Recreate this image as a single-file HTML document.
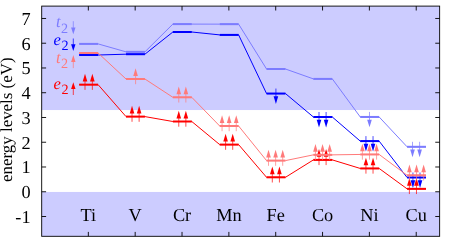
<!DOCTYPE html>
<html><head><meta charset="utf-8"><title>energy levels</title>
<style>
html,body{margin:0;padding:0;background:#fff;}
body{width:452px;height:246px;overflow:hidden;}
svg{display:block;will-change:transform;}
text{font-family:"Liberation Serif",serif;text-rendering:geometricPrecision;}
.tk{font-size:18.3px;fill:#000;}
.yl{font-size:16.9px;fill:#000;}
.lg{font-size:16.5px;}
.sub{font-size:14.2px;}
</style></head><body>
<svg width="452" height="246" viewBox="0 0 452 246">
<rect x="0" y="0" width="452" height="246" fill="#ffffff"/>
<rect x="41.70" y="6.10" width="397.95" height="103.95" fill="#ccccff"/>
<rect x="41.70" y="191.95" width="397.95" height="44.35" fill="#ccccff"/>
<path d="M79.19 84.65 L98.09 84.65 L126.03 116.60 L144.93 116.60 L172.87 121.50 L191.77 121.50 L219.71 144.60 L238.61 144.60 L266.56 177.30 L285.46 177.30 L313.40 159.90 L332.30 159.90 L360.24 168.45 L379.14 168.45 L407.08 188.85 L425.98 188.85" fill="none" stroke="#ff0000" stroke-width="1.00" stroke-linejoin="round"/>
<path d="M79.19 84.65 H98.09" stroke="#ff0000" stroke-width="2.00" fill="none"/>
<path d="M126.03 116.60 H144.93" stroke="#ff0000" stroke-width="2.00" fill="none"/>
<path d="M172.87 121.50 H191.77" stroke="#ff0000" stroke-width="2.00" fill="none"/>
<path d="M219.71 144.60 H238.61" stroke="#ff0000" stroke-width="2.00" fill="none"/>
<path d="M266.56 177.30 H285.46" stroke="#ff0000" stroke-width="2.00" fill="none"/>
<path d="M313.40 159.90 H332.30" stroke="#ff0000" stroke-width="2.00" fill="none"/>
<path d="M360.24 168.45 H379.14" stroke="#ff0000" stroke-width="2.00" fill="none"/>
<path d="M407.08 188.85 H425.98" stroke="#ff0000" stroke-width="2.00" fill="none"/>
<path d="M85.01 89.85 V81.05" stroke="#ff0000" stroke-width="0.70" fill="none"/>
<path d="M85.01 73.85 L82.71 81.55 L87.31 81.55 Z" fill="#ff0000"/>
<path d="M92.35 89.85 V81.05" stroke="#ff0000" stroke-width="0.70" fill="none"/>
<path d="M92.35 73.85 L90.05 81.55 L94.65 81.55 Z" fill="#ff0000"/>
<path d="M132.03 121.80 V113.00" stroke="#ff0000" stroke-width="0.70" fill="none"/>
<path d="M132.03 105.80 L129.73 113.50 L134.33 113.50 Z" fill="#ff0000"/>
<path d="M139.13 121.80 V113.00" stroke="#ff0000" stroke-width="0.70" fill="none"/>
<path d="M139.13 105.80 L136.83 113.50 L141.43 113.50 Z" fill="#ff0000"/>
<path d="M178.77 126.70 V117.90" stroke="#ff0000" stroke-width="0.70" fill="none"/>
<path d="M178.77 110.70 L176.47 118.40 L181.07 118.40 Z" fill="#ff0000"/>
<path d="M185.87 126.70 V117.90" stroke="#ff0000" stroke-width="0.70" fill="none"/>
<path d="M185.87 110.70 L183.57 118.40 L188.17 118.40 Z" fill="#ff0000"/>
<path d="M225.61 149.80 V141.00" stroke="#ff0000" stroke-width="0.70" fill="none"/>
<path d="M225.61 133.80 L223.31 141.50 L227.91 141.50 Z" fill="#ff0000"/>
<path d="M232.71 149.80 V141.00" stroke="#ff0000" stroke-width="0.70" fill="none"/>
<path d="M232.71 133.80 L230.41 141.50 L235.01 141.50 Z" fill="#ff0000"/>
<path d="M272.31 182.50 V173.70" stroke="#ff0000" stroke-width="0.70" fill="none"/>
<path d="M272.31 166.50 L270.01 174.20 L274.61 174.20 Z" fill="#ff0000"/>
<path d="M279.41 182.50 V173.70" stroke="#ff0000" stroke-width="0.70" fill="none"/>
<path d="M279.41 166.50 L277.11 174.20 L281.71 174.20 Z" fill="#ff0000"/>
<path d="M319.00 165.10 V156.30" stroke="#ff0000" stroke-width="0.70" fill="none"/>
<path d="M319.00 149.10 L316.70 156.80 L321.30 156.80 Z" fill="#ff0000"/>
<path d="M326.10 165.10 V156.30" stroke="#ff0000" stroke-width="0.70" fill="none"/>
<path d="M326.10 149.10 L323.80 156.80 L328.40 156.80 Z" fill="#ff0000"/>
<path d="M365.94 173.65 V164.85" stroke="#ff0000" stroke-width="0.70" fill="none"/>
<path d="M365.94 157.65 L363.64 165.35 L368.24 165.35 Z" fill="#ff0000"/>
<path d="M373.04 173.65 V164.85" stroke="#ff0000" stroke-width="0.70" fill="none"/>
<path d="M373.04 157.65 L370.74 165.35 L375.34 165.35 Z" fill="#ff0000"/>
<path d="M409.38 194.05 V185.25" stroke="#ff0000" stroke-width="0.70" fill="none"/>
<path d="M409.38 178.05 L407.08 185.75 L411.68 185.75 Z" fill="#ff0000"/>
<path d="M416.48 194.05 V185.25" stroke="#ff0000" stroke-width="0.70" fill="none"/>
<path d="M416.48 178.05 L414.18 185.75 L418.78 185.75 Z" fill="#ff0000"/>
<path d="M79.19 55.00 L98.09 55.00 L126.03 54.20 L144.93 54.20 L172.87 32.00 L191.77 32.00 L219.71 34.90 L238.61 34.90 L266.56 93.55 L285.46 93.55 L313.40 117.00 L332.30 117.00 L360.24 141.10 L379.14 141.10 L407.08 177.50 L425.98 177.50" fill="none" stroke="#0000ff" stroke-width="1.00" stroke-linejoin="round"/>
<path d="M79.19 55.00 H98.09" stroke="#0000ff" stroke-width="2.00" fill="none"/>
<path d="M126.03 54.20 H144.93" stroke="#0000ff" stroke-width="2.00" fill="none"/>
<path d="M172.87 32.00 H191.77" stroke="#0000ff" stroke-width="2.00" fill="none"/>
<path d="M219.71 34.90 H238.61" stroke="#0000ff" stroke-width="2.00" fill="none"/>
<path d="M266.56 93.55 H285.46" stroke="#0000ff" stroke-width="2.00" fill="none"/>
<path d="M313.40 117.00 H332.30" stroke="#0000ff" stroke-width="2.00" fill="none"/>
<path d="M360.24 141.10 H379.14" stroke="#0000ff" stroke-width="2.00" fill="none"/>
<path d="M407.08 177.50 H425.98" stroke="#0000ff" stroke-width="2.00" fill="none"/>
<path d="M275.91 88.55 V96.75" stroke="#0000ff" stroke-width="0.70" fill="none"/>
<path d="M275.91 103.95 L273.61 96.25 L278.21 96.25 Z" fill="#0000ff"/>
<path d="M319.00 112.00 V120.20" stroke="#0000ff" stroke-width="0.70" fill="none"/>
<path d="M319.00 127.40 L316.70 119.70 L321.30 119.70 Z" fill="#0000ff"/>
<path d="M326.10 112.00 V120.20" stroke="#0000ff" stroke-width="0.70" fill="none"/>
<path d="M326.10 127.40 L323.80 119.70 L328.40 119.70 Z" fill="#0000ff"/>
<path d="M365.94 136.10 V144.30" stroke="#0000ff" stroke-width="0.70" fill="none"/>
<path d="M365.94 151.50 L363.64 143.80 L368.24 143.80 Z" fill="#0000ff"/>
<path d="M373.04 136.10 V144.30" stroke="#0000ff" stroke-width="0.70" fill="none"/>
<path d="M373.04 151.50 L370.74 143.80 L375.34 143.80 Z" fill="#0000ff"/>
<path d="M412.93 172.50 V180.70" stroke="#0000ff" stroke-width="0.70" fill="none"/>
<path d="M412.93 187.90 L410.63 180.20 L415.23 180.20 Z" fill="#0000ff"/>
<path d="M420.03 172.50 V180.70" stroke="#0000ff" stroke-width="0.70" fill="none"/>
<path d="M420.03 187.90 L417.73 180.20 L422.33 180.20 Z" fill="#0000ff"/>
<path d="M79.19 43.90 L98.09 43.90 L126.03 51.85 L144.93 51.85 L172.87 24.10 L191.77 24.10 L219.71 24.15 L238.61 24.15 L266.56 69.00 L285.46 69.00 L313.40 78.90 L332.30 78.90 L360.24 116.95 L379.14 116.95 L407.08 146.80 L425.98 146.80" fill="none" stroke="#7c7cff" stroke-width="1.00" stroke-linejoin="round"/>
<path d="M79.19 43.90 H98.09" stroke="#7c7cff" stroke-width="2.00" fill="none"/>
<path d="M126.03 51.85 H144.93" stroke="#7c7cff" stroke-width="2.00" fill="none"/>
<path d="M172.87 24.10 H191.77" stroke="#7c7cff" stroke-width="2.00" fill="none"/>
<path d="M219.71 24.15 H238.61" stroke="#7c7cff" stroke-width="2.00" fill="none"/>
<path d="M266.56 69.00 H285.46" stroke="#7c7cff" stroke-width="2.00" fill="none"/>
<path d="M313.40 78.90 H332.30" stroke="#7c7cff" stroke-width="2.00" fill="none"/>
<path d="M360.24 116.95 H379.14" stroke="#7c7cff" stroke-width="2.00" fill="none"/>
<path d="M407.08 146.80 H425.98" stroke="#7c7cff" stroke-width="2.00" fill="none"/>
<path d="M369.49 111.95 V120.15" stroke="#7c7cff" stroke-width="0.70" fill="none"/>
<path d="M369.49 127.35 L367.19 119.65 L371.79 119.65 Z" fill="#7c7cff"/>
<path d="M412.51 141.80 V150.00" stroke="#7c7cff" stroke-width="0.70" fill="none"/>
<path d="M412.51 157.20 L410.21 149.50 L414.81 149.50 Z" fill="#7c7cff"/>
<path d="M419.61 141.80 V150.00" stroke="#7c7cff" stroke-width="0.70" fill="none"/>
<path d="M419.61 157.20 L417.31 149.50 L421.91 149.50 Z" fill="#7c7cff"/>
<path d="M79.19 53.00 L98.09 53.00 L126.03 79.00 L144.93 79.00 L172.87 97.30 L191.77 97.30 L219.71 126.00 L238.61 126.00 L266.56 160.60 L285.46 160.60 L313.40 154.85 L332.30 154.85 L360.24 154.45 L379.14 154.45 L407.08 175.30 L425.98 175.30" fill="none" stroke="#ff7a7a" stroke-width="1.00" stroke-linejoin="round"/>
<path d="M79.19 53.00 H98.09" stroke="#ff7a7a" stroke-width="2.00" fill="none"/>
<path d="M126.03 79.00 H144.93" stroke="#ff7a7a" stroke-width="2.00" fill="none"/>
<path d="M172.87 97.30 H191.77" stroke="#ff7a7a" stroke-width="2.00" fill="none"/>
<path d="M219.71 126.00 H238.61" stroke="#ff7a7a" stroke-width="2.00" fill="none"/>
<path d="M266.56 160.60 H285.46" stroke="#ff7a7a" stroke-width="2.00" fill="none"/>
<path d="M313.40 154.85 H332.30" stroke="#ff7a7a" stroke-width="2.00" fill="none"/>
<path d="M360.24 154.45 H379.14" stroke="#ff7a7a" stroke-width="2.00" fill="none"/>
<path d="M407.08 175.30 H425.98" stroke="#ff7a7a" stroke-width="2.00" fill="none"/>
<path d="M135.58 84.20 V75.40" stroke="#ff7a7a" stroke-width="0.70" fill="none"/>
<path d="M135.58 68.20 L133.28 75.90 L137.88 75.90 Z" fill="#ff7a7a"/>
<path d="M178.77 102.50 V93.70" stroke="#ff7a7a" stroke-width="0.70" fill="none"/>
<path d="M178.77 86.50 L176.47 94.20 L181.07 94.20 Z" fill="#ff7a7a"/>
<path d="M185.87 102.50 V93.70" stroke="#ff7a7a" stroke-width="0.70" fill="none"/>
<path d="M185.87 86.50 L183.57 94.20 L188.17 94.20 Z" fill="#ff7a7a"/>
<path d="M222.06 131.20 V122.40" stroke="#ff7a7a" stroke-width="0.70" fill="none"/>
<path d="M222.06 115.20 L219.76 122.90 L224.36 122.90 Z" fill="#ff7a7a"/>
<path d="M229.16 131.20 V122.40" stroke="#ff7a7a" stroke-width="0.70" fill="none"/>
<path d="M229.16 115.20 L226.86 122.90 L231.46 122.90 Z" fill="#ff7a7a"/>
<path d="M236.26 131.20 V122.40" stroke="#ff7a7a" stroke-width="0.70" fill="none"/>
<path d="M236.26 115.20 L233.96 122.90 L238.56 122.90 Z" fill="#ff7a7a"/>
<path d="M268.51 165.80 V157.00" stroke="#ff7a7a" stroke-width="0.70" fill="none"/>
<path d="M268.51 149.80 L266.21 157.50 L270.81 157.50 Z" fill="#ff7a7a"/>
<path d="M275.61 165.80 V157.00" stroke="#ff7a7a" stroke-width="0.70" fill="none"/>
<path d="M275.61 149.80 L273.31 157.50 L277.91 157.50 Z" fill="#ff7a7a"/>
<path d="M282.71 165.80 V157.00" stroke="#ff7a7a" stroke-width="0.70" fill="none"/>
<path d="M282.71 149.80 L280.41 157.50 L285.01 157.50 Z" fill="#ff7a7a"/>
<path d="M315.45 160.05 V151.25" stroke="#ff7a7a" stroke-width="0.70" fill="none"/>
<path d="M315.45 144.05 L313.15 151.75 L317.75 151.75 Z" fill="#ff7a7a"/>
<path d="M322.55 160.05 V151.25" stroke="#ff7a7a" stroke-width="0.70" fill="none"/>
<path d="M322.55 144.05 L320.25 151.75 L324.85 151.75 Z" fill="#ff7a7a"/>
<path d="M329.65 160.05 V151.25" stroke="#ff7a7a" stroke-width="0.70" fill="none"/>
<path d="M329.65 144.05 L327.35 151.75 L331.95 151.75 Z" fill="#ff7a7a"/>
<path d="M362.39 159.65 V150.85" stroke="#ff7a7a" stroke-width="0.70" fill="none"/>
<path d="M362.39 143.65 L360.09 151.35 L364.69 151.35 Z" fill="#ff7a7a"/>
<path d="M369.49 159.65 V150.85" stroke="#ff7a7a" stroke-width="0.70" fill="none"/>
<path d="M369.49 143.65 L367.19 151.35 L371.79 151.35 Z" fill="#ff7a7a"/>
<path d="M376.59 159.65 V150.85" stroke="#ff7a7a" stroke-width="0.70" fill="none"/>
<path d="M376.59 143.65 L374.29 151.35 L378.89 151.35 Z" fill="#ff7a7a"/>
<path d="M409.43 180.50 V171.70" stroke="#ff7a7a" stroke-width="0.70" fill="none"/>
<path d="M409.43 164.50 L407.13 172.20 L411.73 172.20 Z" fill="#ff7a7a"/>
<path d="M416.53 180.50 V171.70" stroke="#ff7a7a" stroke-width="0.70" fill="none"/>
<path d="M416.53 164.50 L414.23 172.20 L418.83 172.20 Z" fill="#ff7a7a"/>
<path d="M423.63 180.50 V171.70" stroke="#ff7a7a" stroke-width="0.70" fill="none"/>
<path d="M423.63 164.50 L421.33 172.20 L425.93 172.20 Z" fill="#ff7a7a"/>
<rect x="41.70" y="6.10" width="397.95" height="230.20" fill="none" stroke="#000" stroke-width="0.9"/>
<path d="M41.70 216.50 h4.40 M439.65 216.50 h-4.40" stroke="#000" stroke-width="0.9"/>
<text x="30.6" y="223.00" text-anchor="end" class="tk">-1</text>
<path d="M41.70 191.75 h4.40 M439.65 191.75 h-4.40" stroke="#000" stroke-width="0.9"/>
<text x="30.6" y="198.25" text-anchor="end" class="tk">0</text>
<path d="M41.70 166.99 h4.40 M439.65 166.99 h-4.40" stroke="#000" stroke-width="0.9"/>
<text x="30.6" y="173.49" text-anchor="end" class="tk">1</text>
<path d="M41.70 142.24 h4.40 M439.65 142.24 h-4.40" stroke="#000" stroke-width="0.9"/>
<text x="30.6" y="148.74" text-anchor="end" class="tk">2</text>
<path d="M41.70 117.49 h4.40 M439.65 117.49 h-4.40" stroke="#000" stroke-width="0.9"/>
<text x="30.6" y="123.99" text-anchor="end" class="tk">3</text>
<path d="M41.70 92.73 h4.40 M439.65 92.73 h-4.40" stroke="#000" stroke-width="0.9"/>
<text x="30.6" y="99.23" text-anchor="end" class="tk">4</text>
<path d="M41.70 67.98 h4.40 M439.65 67.98 h-4.40" stroke="#000" stroke-width="0.9"/>
<text x="30.6" y="74.48" text-anchor="end" class="tk">5</text>
<path d="M41.70 43.23 h4.40 M439.65 43.23 h-4.40" stroke="#000" stroke-width="0.9"/>
<text x="30.6" y="49.73" text-anchor="end" class="tk">6</text>
<path d="M41.70 18.48 h4.40 M439.65 18.48 h-4.40" stroke="#000" stroke-width="0.9"/>
<text x="30.6" y="24.98" text-anchor="end" class="tk">7</text>
<path d="M88.34 6.10 v4.40 M88.34 236.30 v-4.40" stroke="#000" stroke-width="0.9"/>
<text x="88.34" y="220.5" text-anchor="middle" class="tk">Ti</text>
<path d="M135.18 6.10 v4.40 M135.18 236.30 v-4.40" stroke="#000" stroke-width="0.9"/>
<text x="135.18" y="220.5" text-anchor="middle" class="tk">V</text>
<path d="M182.02 6.10 v4.40 M182.02 236.30 v-4.40" stroke="#000" stroke-width="0.9"/>
<text x="182.02" y="220.5" text-anchor="middle" class="tk">Cr</text>
<path d="M228.86 6.10 v4.40 M228.86 236.30 v-4.40" stroke="#000" stroke-width="0.9"/>
<text x="228.86" y="220.5" text-anchor="middle" class="tk">Mn</text>
<path d="M275.71 6.10 v4.40 M275.71 236.30 v-4.40" stroke="#000" stroke-width="0.9"/>
<text x="275.71" y="220.5" text-anchor="middle" class="tk">Fe</text>
<path d="M322.55 6.10 v4.40 M322.55 236.30 v-4.40" stroke="#000" stroke-width="0.9"/>
<text x="322.55" y="220.5" text-anchor="middle" class="tk">Co</text>
<path d="M369.39 6.10 v4.40 M369.39 236.30 v-4.40" stroke="#000" stroke-width="0.9"/>
<text x="369.39" y="220.5" text-anchor="middle" class="tk">Ni</text>
<path d="M416.23 6.10 v4.40 M416.23 236.30 v-4.40" stroke="#000" stroke-width="0.9"/>
<text x="416.23" y="220.5" text-anchor="middle" class="tk">Cu</text>
<text transform="translate(11.9 119.7) rotate(-90)" text-anchor="middle" class="yl">energy levels (eV)</text>
<text x="55.95" y="27.30" class="lg" font-style="italic" fill="#7c7cff">t</text>
<text x="60.90" y="32.90" class="sub" fill="#7c7cff">2</text>
<path d="M73.30 21.20 V27.90" stroke="#7c7cff" stroke-width="0.70" fill="none"/>
<path d="M73.30 34.20 L71.10 27.40 L75.50 27.40 Z" fill="#7c7cff"/>
<text x="53.40" y="44.60" class="lg" font-style="italic" fill="#0000ff">e</text>
<text x="61.50" y="50.30" class="sub" fill="#0000ff">2</text>
<path d="M73.30 38.50 V44.80" stroke="#0000ff" stroke-width="0.70" fill="none"/>
<path d="M73.30 51.10 L71.10 44.30 L75.50 44.30 Z" fill="#0000ff"/>
<text x="55.95" y="62.60" class="lg" font-style="italic" fill="#ff7a7a">t</text>
<text x="60.90" y="68.00" class="sub" fill="#ff7a7a">2</text>
<path d="M73.30 68.10 V61.40" stroke="#ff7a7a" stroke-width="0.70" fill="none"/>
<path d="M73.30 55.10 L71.10 61.90 L75.50 61.90 Z" fill="#ff7a7a"/>
<text x="53.40" y="88.60" class="lg" font-style="italic" fill="#ff0000">e</text>
<text x="61.50" y="94.20" class="sub" fill="#ff0000">2</text>
<path d="M73.30 95.00 V88.60" stroke="#ff0000" stroke-width="0.70" fill="none"/>
<path d="M73.30 82.30 L71.10 89.10 L75.50 89.10 Z" fill="#ff0000"/>
</svg>
</body></html>
